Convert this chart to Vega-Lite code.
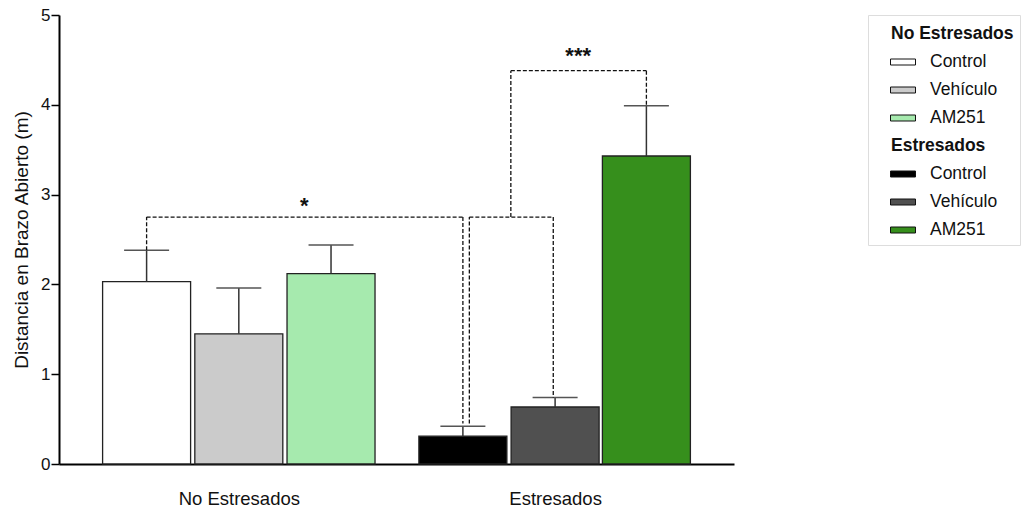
{
  "$schema": "https://vega.github.io/schema/vega-lite/v6.json",
  "width": 675,
  "height": 449,
  "autosize": {"type": "none"},
  "padding": {"left": 59, "top": 15, "right": 292, "bottom": 46},
  "background": "white",
  "config": {
    "view": {"stroke": null},
    "font": "Liberation Sans",
    "axis": {"grid": false, "domainColor": "#000000", "domainWidth": 2, "labelColor": "#111111", "titleColor": "#111111", "labelFont": "Liberation Sans", "titleFont": "Liberation Sans"}
  },
  "data": {
    "values": [
      {"grupo": "No Estresados", "tratamiento": "Control", "serie": "Control (NE)", "pos": 1.0, "media": 2.03, "sup": 2.38},
      {"grupo": "No Estresados", "tratamiento": "Vehículo", "serie": "Vehículo (NE)", "pos": 2.0, "media": 1.45, "sup": 1.96},
      {"grupo": "No Estresados", "tratamiento": "AM251", "serie": "AM251 (NE)", "pos": 3.0, "media": 2.12, "sup": 2.44},
      {"grupo": "Estresados", "tratamiento": "Control", "serie": "Control (E)", "pos": 4.43, "media": 0.31, "sup": 0.42},
      {"grupo": "Estresados", "tratamiento": "Vehículo", "serie": "Vehículo (E)", "pos": 5.43, "media": 0.635, "sup": 0.74},
      {"grupo": "Estresados", "tratamiento": "AM251", "serie": "AM251 (E)", "pos": 6.42, "media": 3.43, "sup": 3.99}
    ]
  },
  "layer": [
    {
      "mark": {"type": "bar", "size": 88, "stroke": "#222222", "strokeWidth": 1.3},
      "encoding": {
        "x": {
          "field": "pos", "type": "quantitative",
          "scale": {"domain": [0.05, 7.37], "nice": false, "zero": false, "padding": 0},
          "axis": {"title": null, "values": [2, 5.43], "ticks": false, "labelFontSize": 18.5, "labelPadding": 25, "labelExpr": "datum.value < 3 ? 'No Estresados' : 'Estresados'"}
        },
        "y": {
          "field": "media", "type": "quantitative",
          "scale": {"domain": [0, 5], "nice": false},
          "axis": {"title": "Distancia en Brazo Abierto (m)", "values": [0, 1, 2, 3, 4, 5], "format": "d", "tickSize": 8, "tickColor": "#000000", "tickWidth": 1.5, "labelFontSize": 17, "labelPadding": 1, "titleFontSize": 19, "titleFontWeight": "normal", "titlePadding": 9}
        },
        "color": {
          "field": "serie", "type": "nominal",
          "scale": {
            "domain": ["No Estresados", "Control (NE)", "Vehículo (NE)", "AM251 (NE)", "Estresados", "Control (E)", "Vehículo (E)", "AM251 (E)"],
            "range": ["#ffffff", "#ffffff", "#cbcbcb", "#a6eaae", "#ffffff", "#000000", "#505050", "#368f1c"]
          },
          "legend": {
            "orient": "none", "legendX": 809, "legendY": 0,
            "title": null,
            "symbolType": "M-1,-0.24H1V0.24H-1Z",
            "symbolSize": 625,
            "symbolOffset": 16,
            "symbolStrokeColor": "#111111", "symbolStrokeWidth": 1,
            "labelFontSize": 17.5, "labelFont": "Liberation Sans", "labelColor": "#111111",
            "labelOffset": 14,
            "rowPadding": 6,
            "padding": 6,
            "strokeColor": "#dddddd",
            "fillColor": "#ffffff",
            "labelExpr": "split(datum.label, ' (')[0]",
            "encode": {
              "symbols": {"update": {"opacity": {"signal": "(datum.value == 'No Estresados' || datum.value == 'Estresados') ? 0 : 1"}}},
              "labels": {"update": {"fontWeight": {"signal": "(datum.value == 'No Estresados' || datum.value == 'Estresados') ? 'bold' : 'normal'"}, "dx": {"signal": "(datum.value == 'No Estresados' || datum.value == 'Estresados') ? -39 : 0"}}}
            }
          }
        }
      }
    },
    {
      "mark": {"type": "rule", "color": "#333333", "strokeWidth": 1.5},
      "encoding": {
        "x": {"field": "pos", "type": "quantitative"},
        "y": {"field": "media", "type": "quantitative"},
        "y2": {"field": "sup"}
      }
    },
    {
      "mark": {"type": "tick", "orient": "horizontal", "size": 45, "thickness": 1.5, "color": "#555555", "opacity": 1},
      "encoding": {
        "x": {"field": "pos", "type": "quantitative"},
        "y": {"field": "sup", "type": "quantitative"}
      }
    },
    {
      "data": {
        "values": [
          {"x": 1.0, "x2": 1.0, "y": 2.38, "y2": 2.75},
          {"x": 1.0, "x2": 4.43, "y": 2.75, "y2": 2.75},
          {"x": 4.43, "x2": 4.43, "y": 2.75, "y2": 0.45},
          {"x": 4.5, "x2": 4.5, "y": 0.45, "y2": 2.75},
          {"x": 4.5, "x2": 5.41, "y": 2.75, "y2": 2.75},
          {"x": 5.41, "x2": 5.41, "y": 2.75, "y2": 0.74},
          {"x": 4.95, "x2": 4.95, "y": 2.75, "y2": 4.38},
          {"x": 4.95, "x2": 6.42, "y": 4.38, "y2": 4.38},
          {"x": 6.42, "x2": 6.42, "y": 4.38, "y2": 3.99}
        ]
      },
      "mark": {"type": "rule", "color": "#111111", "strokeWidth": 1.3, "strokeDash": [4, 2]},
      "encoding": {
        "x": {"field": "x", "type": "quantitative"},
        "x2": {"field": "x2"},
        "y": {"field": "y", "type": "quantitative"},
        "y2": {"field": "y2"}
      }
    },
    {
      "data": {
        "values": [
          {"x": 2.71, "y": 2.8, "marca": "*"},
          {"x": 5.68, "y": 4.47, "marca": "***"}
        ]
      },
      "mark": {"type": "text", "fontSize": 22, "fontWeight": "bold", "color": "#111111", "baseline": "alphabetic", "align": "center", "font": "Liberation Sans"},
      "encoding": {
        "x": {"field": "x", "type": "quantitative"},
        "y": {"field": "y", "type": "quantitative"},
        "text": {"field": "marca"}
      }
    }
  ]
}
